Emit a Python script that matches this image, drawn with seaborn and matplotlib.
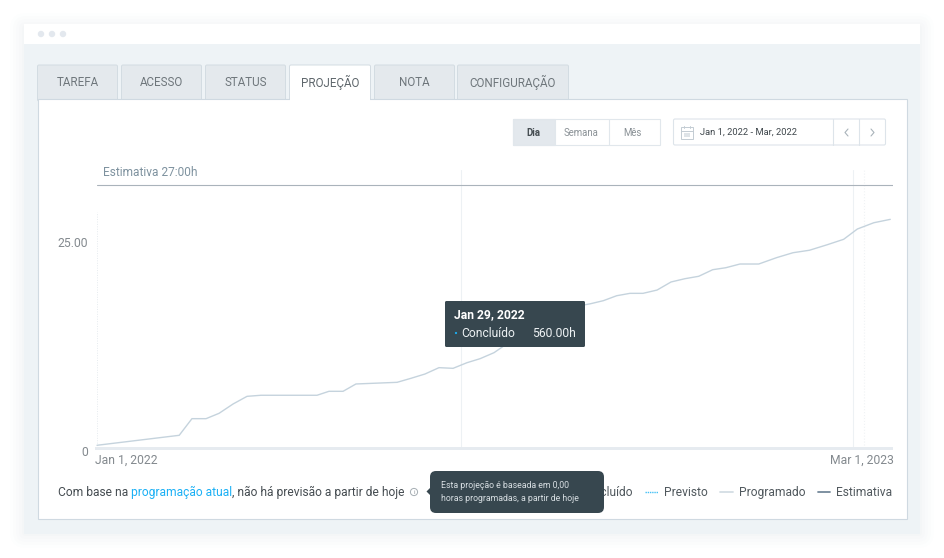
import matplotlib
matplotlib.use('Agg')
import matplotlib.pyplot as plt
import seaborn as sns
from matplotlib.patches import FancyBboxPatch, Rectangle, Circle, Polygon
from matplotlib.transforms import ScaledTranslation

# Data.
dias = [0, 6, 6.93, 7.96, 8.91, 9.93, 10.95, 11.97, 16.06, 16.93, 17.96, 18.9, 21.9, 22.92,
        23.94, 24.96, 25.99, 27, 27.96, 28.98, 30, 31, 32, 33, 34, 35, 36, 36.96, 37.93,
        38.9, 39.85, 40.88, 41.9, 42.92, 43.92, 44.94, 45.9, 46.93, 48.3, 49.6, 50.8,
        52, 53.3, 54.5, 55.5, 56.7, 57.9]
horas = [0.33, 1.54, 3.56, 3.56, 4.21, 5.34, 6.27, 6.40, 6.40, 6.88, 6.88, 7.77, 7.97, 8.46,
         8.98, 9.75, 9.67, 10.35, 10.84, 11.57, 12.74, 13.47, 14.2, 15.3, 16.5, 17.2, 17.5, 17.88, 18.48,
         18.77, 18.77, 19.17, 20.15, 20.55, 20.84, 21.64, 21.88, 22.33, 22.33, 23.1, 23.7,
         24.0, 24.67, 25.33, 26.58, 27.34, 27.75]
estimativa = 31.86
marcas_dias = [26.57, 55.18, 55.99]
x_ticks = [0, 58.1]
x_labels = ['Jan 1, 2022', 'Mar 1, 2023']
y_ticks = [0, 25]
y_labels = ['0', '25.00']
abas = ['TAREFA', 'ACESSO', 'STATUS', 'PROJEÇÃO', 'NOTA', 'CONFIGURAÇÃO']
periodos = ['Dia', 'Semana', 'Mês']

W, H = 944, 558
sns.set_theme(style='white')
plt.rcParams['font.family'] = ['Roboto', 'DejaVu Sans']

fig = plt.figure(figsize=(W / 100, H / 100), dpi=100, facecolor='white')


def px_axes(z):
    a = fig.add_axes([0, 0, 1, 1], zorder=z)
    a.set_xlim(0, W)
    a.set_ylim(H, 0)
    a.axis('off')
    a.patch.set_alpha(0)
    return a


def box(a, x0, y0, x1, y1, fc, ec='none', r=0, lw=1, **kw):
    if r:
        p = FancyBboxPatch((x0 + r, y0 + r), x1 - x0 - 2 * r, y1 - y0 - 2 * r,
                           boxstyle=f'round,pad={r},rounding_size={r}',
                           fc=fc, ec=ec, lw=lw, **kw)
    else:
        p = Rectangle((x0, y0), x1 - x0, y1 - y0, fc=fc, ec=ec, lw=lw, **kw)
    a.add_patch(p)


def label(a, x, y, s, size=8.6, color='#555d63', ha='left', **kw):
    a.text(x, y, s, fontsize=size, color=color, ha=ha, va='center', **kw)


def nudge(txt, dx, dy):
    txt.set_transform(txt.get_transform() + ScaledTranslation(dx / 100, dy / 100, fig.dpi_scale_trans))


bg = px_axes(0)

# window shadow and frame
for grow, alpha in [(14, .009), (11, .011), (8, .013), (5, .016), (2, .02)]:
    box(bg, 24 - grow, 24 - grow + 3, 920 + grow, 534 + grow, '#7d93a8', r=grow + 2, alpha=alpha)
box(bg, 24, 24, 920, 534, '#eef3f6')
box(bg, 24, 24, 920, 44, 'white')
for cx in [41, 52, 63]:
    bg.add_patch(Circle((cx, 34), 3.2, fc='#e3e8ee', ec='none'))

# tabs
tab_x = [(37.5, 117.5), (121.5, 201.5), (205.5, 285.5), (289.5, 370.5), (374.5, 454.5), (457.5, 568.5)]
for nome, (x0, x1) in zip(abas, tab_x):
    ativo = nome == 'PROJEÇÃO'
    box(bg, x0, 65, x1, 101, 'white' if ativo else '#e4e9ed', '#d3dce2', r=1.5, lw=.7)
    label(bg, (x0 + x1) / 2, 82, nome, 8.4, '#5f676c' if ativo else '#6e767b', 'center')

# panel
box(bg, 37.5, 98.5, 906.5, 519, 'white', '#cfd9e1', lw=.8)
box(bg, 290, 96.5, 370, 100.5, 'white')

# period buttons
box(bg, 513, 119, 659.5, 145, 'white', '#e1e7ec', lw=.8)
box(bg, 513, 119, 554.5, 145, '#e3e8ed', '#e1e7ec', lw=.8)
bg.plot([609, 609], [119, 145], color='#e1e7ec', lw=.8)
for nome, cx in zip(periodos, [533.5, 581.5, 632]):
    sel = nome == 'Dia'
    label(bg, cx, 132.5, nome, 6.9, '#454d52' if sel else '#8a9196', 'center',
          fontweight='bold' if sel else 'normal')

# date picker
box(bg, 673.5, 119, 885.5, 145, 'white', '#dde4ea', r=1.5, lw=.8)
for xd in [832.5, 859]:
    bg.plot([xd, xd], [119, 145], color='#dde4ea', lw=.8)
box(bg, 680.5, 127, 693, 138.5, 'white', '#c3ccd3', lw=.7)
bg.plot([680.5, 693], [130.5, 130.5], color='#c3ccd3', lw=.7)
bg.plot([684, 684], [125.5, 128], color='#c3ccd3', lw=.7)
bg.plot([689.5, 689.5], [125.5, 128], color='#c3ccd3', lw=.7)
box(bg, 683.5, 133, 690, 136.5, '#dfe4e8')
label(bg, 700.5, 132.5, 'Jan 1, 2022 - Mar, 2022', 6.75, '#3f474c')
bg.plot([848, 845, 848], [129, 132.5, 136], color='#a9b3ba', lw=.8)
bg.plot([871, 874, 871], [129, 132.5, 136], color='#a9b3ba', lw=.8)

# chart
ax = fig.add_axes([97 / W, 1 - 448 / H, (893 - 97) / W, (448 - 170) / H], zorder=1)
ax.patch.set_alpha(0)
ax.set_xlim(0, 58.1)
ax.set_ylim(0, 33.74)
ax.axvline(0, ymax=.85, color='#e6ebef', lw=.7, ls=(0, (1, 1.5)))
for d, st, cor in zip(marcas_dias, ['-', '-', ':'], ['#edf1f4', '#edf1f4', '#f0f3f5']):
    ax.axvline(d, color=cor, lw=.8, ls=st)
ax.axhline(estimativa, color='#aab3bb', lw=.8)
sns.lineplot(x=dias, y=horas, ax=ax, color='#c5d3dd', lw=1.0, estimator=None, clip_on=False)
sns.despine(ax=ax, left=True, right=True, top=True, bottom=True)
ax.set_xticks(x_ticks)
ax.set_xticklabels(x_labels, color='#83898e', fontsize=8.7)
ax.get_xticklabels()[0].set_ha('left')
ax.get_xticklabels()[1].set_ha('right')
ax.set_yticks(y_ticks)
ax.set_yticklabels(y_labels, color='#83898e', fontsize=8.7)
ax.tick_params(axis='both', length=0)
ax.tick_params(axis='x', pad=4.5)
ax.tick_params(axis='y', pad=6.5)
ax.grid(False)
nudge(ax.get_xticklabels()[0], -2, 0)
nudge(ax.get_xticklabels()[1], 1, 0)
nudge(ax.get_yticklabels()[0], 0, -3)
ax.text(6 / 796, estimativa + 1.6, 'Estimativa 27:00h', transform=ax.get_yaxis_transform(),
        fontsize=8.6, color='#7e929f', va='center')

top = px_axes(2)
box(top, 95, 447, 893, 449.6, '#e6ebf0')

# footer text
label(top, 58, 492, 'Com base na', 8.65, '#454c51')
label(top, 131, 492, 'programação atual', 8.65, '#1ab0f5')
label(top, 231.5, 492, ', não há previsão a partir de hoje', 8.65, '#454c51')
top.add_patch(Circle((414, 492), 3.6, fc='white', ec='#a5adb3', lw=.7))
label(top, 414, 492, 'i', 4.5, '#8a9196', 'center')

# legend row, the first entry sits under the tooltip
top.text(633, 492.5, 'Concluído', fontsize=8.65, color='#50585d', ha='right', va='center', zorder=0.5)
top.plot([645, 657.5], [492, 492], color='#45c1f5', lw=1, ls=(0, (1, .6)))
label(top, 664, 492.5, 'Previsto', 8.65, '#50585d')
top.plot([720, 732.5], [492, 492], color='#d3dde4', lw=1.3)
label(top, 738.5, 492.5, 'Programado', 8.65, '#50585d')
top.plot([817.5, 830], [492, 492], color='#74889a', lw=1.3)
label(top, 836, 492.5, 'Estimativa', 8.65, '#50585d')

# tooltips
box(top, 445, 301, 585, 347, '#37474f', r=1.5)
label(top, 454.5, 314.5, 'Jan 29, 2022', 8.7, 'white', fontweight='bold')
top.add_patch(Circle((456, 333), 1.1, fc='#1ab0f5', ec='none'))
label(top, 461.5, 333.5, 'Concluído', 8.7, '#eef2f4')
label(top, 575.5, 333.5, '560.00h', 8.7, '#eef2f4', 'right')

box(top, 430, 471, 604, 513, '#37474f', r=6)
top.add_patch(Polygon([[430.5, 487.5], [426.5, 491.5], [430.5, 495.5]], fc='#37474f', ec='none'))
label(top, 441, 485.5, 'Esta projeção é baseada em 0,00', 6.3, '#d7dee2')
label(top, 441, 498.5, 'horas programadas, a partir de hoje', 6.3, '#d7dee2')

fig.savefig('out.png', dpi=100)
